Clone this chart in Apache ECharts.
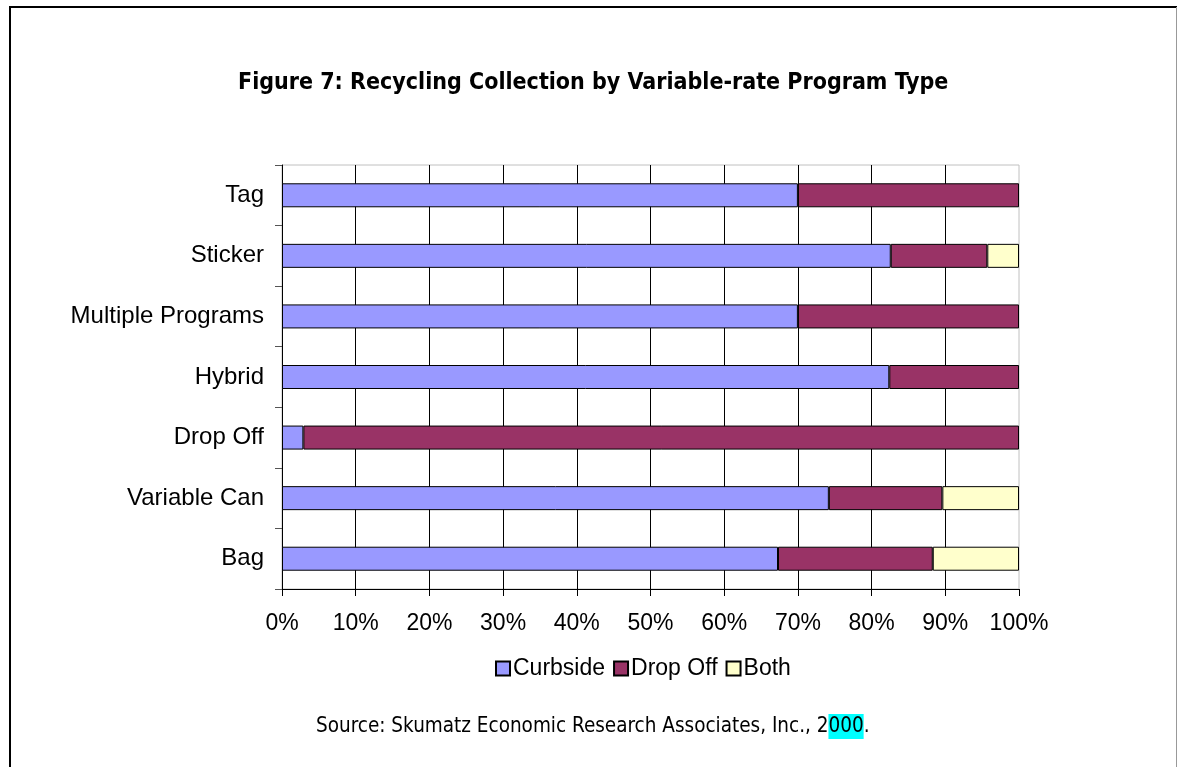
<!DOCTYPE html>
<html>
<head>
<meta charset="utf-8">
<script src="https://cdn.jsdelivr.net/npm/echarts@6/dist/echarts.min.js"></script>
<style>
html,body{margin:0;padding:0;background:#fff;}
#c{width:1177px;height:767px;}
</style>
</head>
<body>
<div id="c"></div>
<script>
const categories = ['Bag', 'Variable Can', 'Drop Off', 'Hybrid', 'Multiple Programs', 'Sticker', 'Tag'];
const curbside = [67.3, 74.2, 2.9, 82.4, 70.0, 82.6, 70.0];
const dropOff = [21.0, 15.4, 97.1, 17.6, 30.0, 13.1, 30.0];
const both = [11.7, 10.4, null, null, null, 4.3, null];
const seriesNames = ['Curbside', 'Drop Off', 'Both'];
const seriesColors = ['#9999FF', '#993366', '#FFFFCC'];
const titleText = 'Figure 7: Recycling Collection by Variable-rate Program Type';
const sourcePre = 'Source: Skumatz Economic Research Associates, Inc., 2';
const sourceHl = '000';
const sourcePost = '.';

const narrow = '"DejaVu Sans Condensed", "Roboto Condensed", "Liberation Sans Narrow", Roboto, sans-serif';
const chart = echarts.init(document.getElementById('c'), null, {renderer: 'canvas'});
const values = [curbside, dropOff, both];
const series = values.map((v, i) => ({
  name: seriesNames[i],
  type: 'bar',
  stack: 'total',
  data: v,
  barWidth: 24,
  itemStyle: {color: seriesColors[i], borderColor: '#000', borderWidth: 1},
  emphasis: {disabled: true}
}));

chart.setOption({
  animation: false,
  backgroundColor: '#fff',
  title: [
    {
      text: titleText,
      left: 238,
      top: 72,
      padding: 0,
      textStyle: {fontFamily: narrow, fontWeight: 'bold', fontSize: 23, color: '#000'}
    },
    {
      text: '{a|' + sourcePre + '}{b|' + sourceHl + '}{a|' + sourcePost + '}',
      left: 316,
      top: 714,
      padding: 0,
      textStyle: {
        rich: {
          a: {fontFamily: narrow, fontSize: 20.5, color: '#000', fontWeight: 'normal'},
          b: {fontFamily: narrow, fontSize: 20.5, color: '#000', backgroundColor: '#00FFFF', fontWeight: 'normal', padding: [2, 0, 2, 0]}
        }
      }
    }
  ],
  legend: {
    data: seriesNames,
    left: 495,
    top: 657,
    padding: 0,
    icon: 'rect',
    itemWidth: 14,
    itemHeight: 14,
    itemGap: 8,
    textStyle: {fontFamily: 'Liberation Sans', fontSize: 23, color: '#000', padding: [0, 0, 0, -2]}
  },
  grid: {
    left: 282, right: 158, top: 165, bottom: 178,
    show: true, borderColor: '#c0c0c0', borderWidth: 1, backgroundColor: 'transparent'
  },
  xAxis: {
    type: 'value',
    min: 0, max: 100, interval: 10,
    axisLine: {show: true, lineStyle: {color: '#000', width: 1}},
    axisTick: {show: true, length: 7, lineStyle: {color: '#000'}},
    axisLabel: {formatter: '{value}%', fontFamily: 'Liberation Sans', fontSize: 23, color: '#000', margin: 23},
    splitLine: {show: true, showMaxLine: false, lineStyle: {color: '#000', width: 1}}
  },
  yAxis: {
    type: 'category',
    data: categories,
    axisLine: {show: true, lineStyle: {color: '#000', width: 1}},
    axisTick: {show: true, length: 7, lineStyle: {color: '#555'}},
    axisLabel: {fontFamily: 'Liberation Sans', fontSize: 24, color: '#000', margin: 18},
    splitLine: {show: false}
  },
  series: series,
  graphic: [
    {type: 'line', shape: {x1: 9, y1: 7, x2: 1177, y2: 7}, style: {stroke: '#000', lineWidth: 2}, z: 100},
    {type: 'line', shape: {x1: 10, y1: 6, x2: 10, y2: 767}, style: {stroke: '#000', lineWidth: 2}, z: 100},
    {type: 'line', shape: {x1: 1176.5, y1: 7, x2: 1176.5, y2: 767}, style: {stroke: '#999', lineWidth: 1}, z: 100}
  ]
});
</script>
</body>
</html>
